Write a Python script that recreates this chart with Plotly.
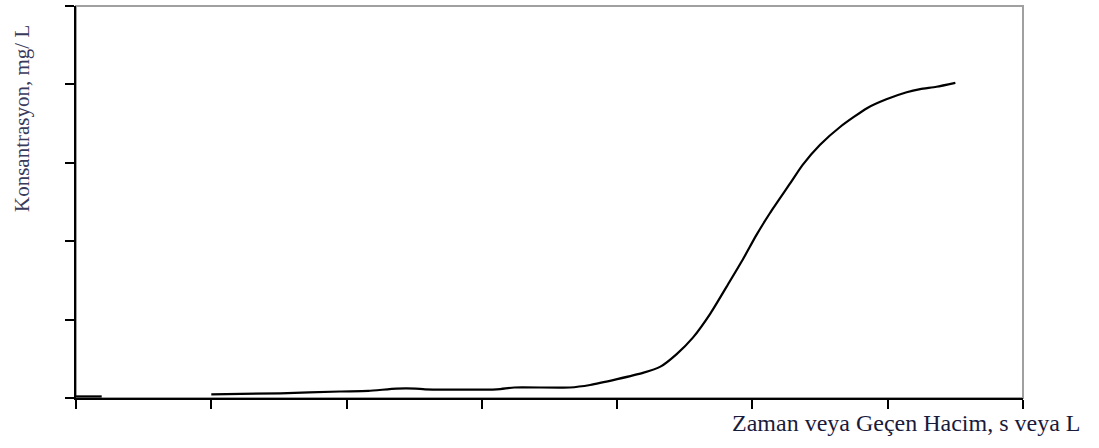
import plotly.graph_objects as go

# Breakthrough curve (x in axis units 0..7, y in axis units 0..5)
x_vals = [0.00, 0.19, None,
          1.00, 1.51, 1.95, 2.16, 2.37, 2.51, 2.58, 3.11, 3.24, 3.65, 3.80,
          4.00, 4.19, 4.32, 4.44, 4.56, 4.69, 4.83, 4.93, 5.03, 5.13, 5.28,
          5.37, 5.50, 5.65, 5.85, 5.99, 6.14, 6.24, 6.36, 6.50]
y_vals = [0.02, 0.02, None,
          0.047, 0.06, 0.083, 0.09, 0.12, 0.12, 0.11, 0.11, 0.134, 0.134, 0.166,
          0.24, 0.32, 0.40, 0.56, 0.77, 1.08, 1.48, 1.77, 2.08, 2.36, 2.74,
          2.97, 3.23, 3.46, 3.70, 3.81, 3.90, 3.94, 3.97, 4.02]

x_ticks = [0, 1, 2, 3, 4, 5, 6, 7]
y_ticks = [0, 1, 2, 3, 4, 5]

x_title = "Zaman veya Geçen Hacim, s veya L"
y_title = "Konsantrasyon, mg/ L"

fig = go.Figure()
fig.add_trace(go.Scatter(x=x_vals, y=y_vals, mode="lines",
                         line=dict(color="black", width=2.2, shape="spline", smoothing=0.6),
                         connectgaps=False, hoverinfo="skip", showlegend=False))

L, R, T, B = 76, 1023, 6, 398
pw, ph = R - L, B - T

fig.update_layout(
    width=1099, height=448,
    margin=dict(l=L, r=1099 - R, t=T, b=448 - B),
    paper_bgcolor="white", plot_bgcolor="white",
    showlegend=False,
    shapes=[dict(type="rect", xref="paper", yref="paper", x0=0, y0=0, x1=1, y1=1,
                 line=dict(color="#a0a0a0", width=2), layer="below")],
    annotations=[
        dict(text=x_title, xref="paper", yref="paper", x=(1083 - L) / pw, y=-(423 - B) / ph,
             xanchor="right", yanchor="middle", showarrow=False,
             font=dict(family="Liberation Serif", size=24, color="#1a1a3a")),
        dict(text=y_title, xref="paper", yref="paper", x=-(L - 22) / pw, y=(B - 119) / ph,
             xanchor="center", yanchor="middle", textangle=-90, showarrow=False,
             font=dict(family="Liberation Serif", size=21, color="#3a3a5a")),
    ],
)
fig.update_xaxes(range=[0, 7], tickvals=x_ticks, showticklabels=False, ticks="outside",
                 ticklen=9, tickwidth=1.5, tickcolor="black", showline=True,
                 linecolor="black", linewidth=2, showgrid=False, zeroline=False)
fig.update_yaxes(range=[0, 5], tickvals=y_ticks, showticklabels=False, ticks="outside",
                 ticklen=9, tickwidth=1.5, tickcolor="black", showline=True,
                 linecolor="black", linewidth=2, showgrid=False, zeroline=False)

fig.write_html("out.html", config={"displayModeBar": False},
               post_script="document.body.style.margin='0px';document.body.style.overflow='hidden';")
